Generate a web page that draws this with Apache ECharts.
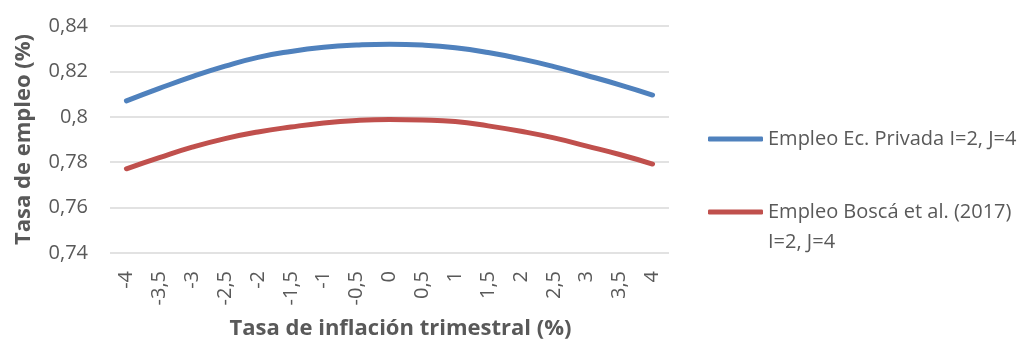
<!DOCTYPE html>
<html>
<head>
<meta charset="utf-8">
<script src="https://cdn.jsdelivr.net/npm/echarts@6/dist/echarts.min.js"></script>
<style>
  html, body { margin: 0; padding: 0; background: #ffffff; }
  #chart { width: 1033px; height: 345px; }
</style>
</head>
<body>
<div id="chart"></div>
<script>
// Quarterly inflation rate (%) on the x axis
const inflation = [-4, -3.5, -3, -2.5, -2, -1.5, -1, -0.5, 0, 0.5, 1, 1.5, 2, 2.5, 3, 3.5, 4];
const inflationLabels = ['-4', '-3,5', '-3', '-2,5', '-2', '-1,5', '-1', '-0,5', '0', '0,5', '1', '1,5', '2', '2,5', '3', '3,5', '4'];

// Employment rate for each inflation rate
const privateEconomy = [0.8070, 0.8125, 0.8177, 0.8223, 0.8262, 0.8288, 0.8306, 0.8316, 0.8320, 0.8316, 0.8304, 0.8283, 0.8255, 0.8221, 0.8182, 0.8141, 0.8096];
const boscaEtAl = [0.7771, 0.7820, 0.7866, 0.7904, 0.7933, 0.7955, 0.7973, 0.7984, 0.7988, 0.7986, 0.7979, 0.7960, 0.7936, 0.7907, 0.7871, 0.7834, 0.7792];

const seriesNames = ['Empleo Ec. Privada I=2, J=4', 'Empleo Boscá et al. (2017) I=2, J=4'];

const textColor = '#595959';
const font = '"Open Sans", "Liberation Sans", sans-serif';

const chart = echarts.init(document.getElementById('chart'));

// One legend block per series; the wrapped entry gets an empty leading line so
// its first text row sits level with the line swatch.
function legendBlock(name, top, wrapped) {
  return {
    left: 708,
    top: top,
    orient: 'vertical',
    padding: 0,
    icon: 'roundRect',
    itemWidth: 55,
    itemHeight: 5,
    itemGap: 4,
    data: [name],
    formatter: wrapped ? (n => '\n' + n.replace(') ', ')\n')) : (n => n),
    textStyle: { color: textColor, fontFamily: font, fontSize: 20, lineHeight: 30 }
  };
}

chart.setOption({
  animation: false,
  backgroundColor: '#ffffff',
  grid: { left: 110, right: 364, top: 26, bottom: 89, containLabel: false },
  legend: [
    legendBlock(seriesNames[0], 124, false),
    legendBlock(seriesNames[1], 167, true)
  ],
  xAxis: {
    type: 'category',
    data: inflation,
    boundaryGap: true,
    name: 'Tasa de inflación trimestral (%)',
    nameLocation: 'middle',
    nameGap: 65,
    nameTextStyle: { color: textColor, fontFamily: font, fontSize: 22, fontWeight: 'bold', padding: [0, 0, 0, 22] },
    axisLine: { show: false },
    axisTick: { show: false },
    axisLabel: {
      rotate: 90,
      margin: 18,
      color: textColor,
      fontFamily: font,
      fontSize: 20,
      interval: 0,
      formatter: (v, i) => inflationLabels[i]
    },
    splitLine: { show: false }
  },
  yAxis: {
    type: 'value',
    min: 0.74,
    max: 0.84,
    interval: 0.02,
    name: 'Tasa de empleo (%)',
    nameLocation: 'middle',
    nameGap: 75,
    nameTextStyle: { color: textColor, fontFamily: font, fontSize: 22, fontWeight: 'bold' },
    axisLine: { show: false },
    axisTick: { show: false },
    axisLabel: {
      margin: 22,
      color: textColor,
      fontFamily: font,
      fontSize: 20,
      formatter: v => String(+v.toFixed(2)).replace('.', ',')
    },
    splitLine: { lineStyle: { color: '#D9D9D9', width: 1.5 } }
  },
  series: [
    {
      name: seriesNames[0],
      type: 'line',
      data: privateEconomy,
      smooth: true,
      symbol: 'none',
      lineStyle: { color: '#4F81BD', width: 5, cap: 'round' },
      itemStyle: { color: '#4F81BD' }
    },
    {
      name: seriesNames[1],
      type: 'line',
      data: boscaEtAl,
      smooth: true,
      symbol: 'none',
      lineStyle: { color: '#C0504D', width: 5, cap: 'round' },
      itemStyle: { color: '#C0504D' }
    }
  ]
});
</script>
</body>
</html>
